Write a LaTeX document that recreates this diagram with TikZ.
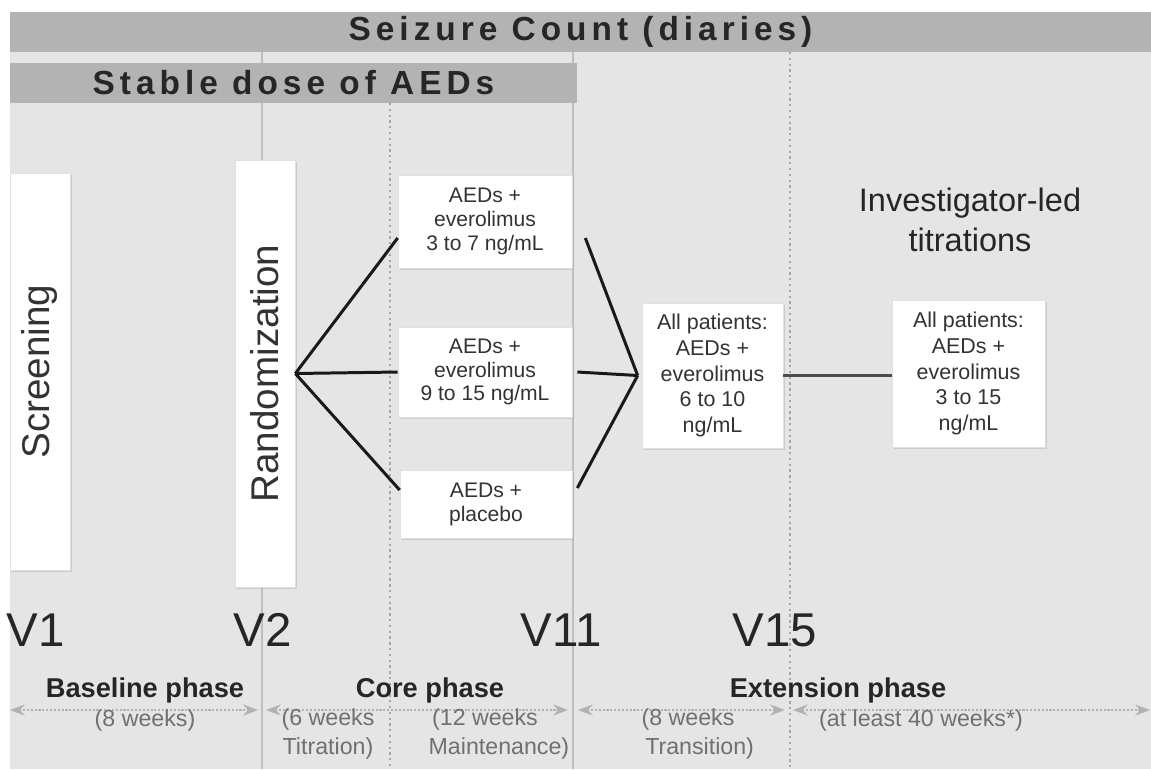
\documentclass[tikz,border=0pt]{standalone}
\usepackage{fontspec}
\setmainfont{Liberation Sans}
\newfontfamily\barfont[LetterSpace=15]{Liberation Sans}
\usetikzlibrary{arrows.meta, positioning, shadows}

\definecolor{panelgray}{HTML}{E5E5E5}
\definecolor{bargray}{HTML}{B3B3B3}
\definecolor{notegray}{HTML}{707070}

\begin{document}
\begin{tikzpicture}[x=0.02cm, y=-0.02cm, >=Stealth,
    bar/.style={fill=bargray, inner sep=0pt, text=black!85,
                font=\barfont\bfseries\fontsize{19}{21}\selectfont},
    whitebox/.style={fill=white, draw=black!12, inner sep=0pt,
                drop shadow={shadow xshift=1.2pt, shadow yshift=-1.2pt, opacity=0.25}},
    armbox/.style={whitebox, align=center, text=black!80,
                font=\fontsize{12}{13.6}\selectfont},
    allbox/.style={whitebox, align=center, text=black!80,
                font=\fontsize{12.2}{14.6}\selectfont},
    visit/.style={text=black!85, font=\fontsize{27}{30}\selectfont},
    phase/.style={text=black!85, font=\bfseries\fontsize{15.5}{17}\selectfont},
    weeks/.style={text=notegray, align=center, font=\fontsize{13.2}{16}\selectfont},
    divider/.style={draw=black!25, line width=0.8pt},
    dotline/.style={draw=black!35, line width=1.3pt, dotted},
    arm/.style={line width=1.7pt, black!90},
    span/.style={<->, draw=black!30, line width=1.2pt, densely dotted},
  ]
  \useasboundingbox (0,0) rectangle (1151,769);
  \fill[white] (0,0) rectangle (1151,769);
  \fill[panelgray] (10,12) rectangle (1151,769);

  % Visit dividers
  \draw[divider] (262,52) -- (262,769);
  \draw[divider] (573,52) -- (573,769);
  \draw[dotline] (390,103) -- (390,769);
  \draw[dotline] (790,52) -- (790,769);

  % Bars
  \node[bar, minimum width=22.82cm, minimum height=0.8cm] (seizure) at (580.5,32)
    {Seizure Count (diaries)};
  \node[bar, minimum width=11.34cm, minimum height=0.8cm] (stable) at (293.5,83)
    {Stable dose of AEDs};

  % Screening and randomization
  \node[whitebox, rotate=90, minimum width=7.94cm, minimum height=1.2cm,
        font=\fontsize{22}{24}\selectfont, text=black!80] (scr) at (40,371.5) {Screening};
  \node[whitebox, rotate=90, minimum width=8.54cm, minimum height=1.2cm,
        font=\fontsize{22}{24}\selectfont, text=black!80] (rand) at (265,373.5) {Randomization};

  % Core phase arms
  \node[armbox, minimum width=3.48cm, minimum height=1.86cm] (arm1) at (485,221.5)
    {AEDs +\\everolimus\\3 to 7 ng/mL};
  \node[armbox, minimum width=3.48cm, minimum height=1.8cm] (arm2) at (485,372)
    {AEDs +\\everolimus\\9 to 15 ng/mL};
  \node[armbox, minimum width=3.44cm, minimum height=1.36cm] (arm3) at (486,504)
    {AEDs +\\placebo};

  % Extension boxes
  \node[allbox, minimum width=2.82cm, minimum height=2.9cm] (trans) at (712.5,375.5)
    {All patients:\\AEDs +\\everolimus\\6 to 10\\ng/mL};
  \node[allbox, minimum width=3.06cm, minimum height=2.94cm] (ext) at (968.5,373.5)
    {All patients:\\AEDs +\\everolimus\\3 to 15\\ng/mL};
  \node[align=center, text=black!85, font=\fontsize{18.5}{22.7}\selectfont]
    (invest) at (970,220) {Investigator-led\\titrations};

  % Connectors
  \coordinate (split) at (rand.south);
  \coordinate (merge) at ([xshift=-0.08cm]trans.west);
  \draw[arm] (split) -- ([yshift=-0.33cm]arm1.west);
  \draw[arm] (split) -- (arm2.west);
  \draw[arm] (split) -- ([yshift=0.28cm]arm3.west);
  \draw[arm] ([xshift=0.26cm, yshift=-0.33cm]arm1.east) -- (merge);
  \draw[arm] ([xshift=0.1cm]arm2.east) -- (merge);
  \draw[arm] ([xshift=0.1cm, yshift=0.32cm]arm3.east) -- (merge);
  \draw[arm, black!70] (trans.east) -- (trans.east -| ext.west);

  % Visits
  \node[visit] (v1) at (36,630) {V1};
  \node[visit] (v2) at (263,630) {V2};
  \node[visit] (v11) at (561,630) {V11};
  \node[visit] (v15) at (775,630) {V15};

  % Phases
  \node[phase] (base) at (145,690) {Baseline phase};
  \node[phase] (core) at (430,690) {Core phase};
  \node[phase] (extp) at (838,690) {Extension phase};

  \coordinate (sL) at (10,710);
  \coordinate (sV2) at (262,710);
  \coordinate (sV11) at (573,710);
  \coordinate (sV15) at (790,710);
  \coordinate (sR) at (1150,710);
  \draw[span, shorten >=0.08cm] (sL) -- (sV2);
  \draw[span, shorten <=0.08cm, shorten >=0.1cm] (sV2) -- (sV11);
  \draw[span, shorten <=0.1cm, shorten >=0.1cm] (sV11) -- (sV15);
  \draw[span, shorten <=0.06cm] (sV15) -- (sR);

  \node[weeks] (w8) at (145,720) {(8 weeks)};
  \node[weeks] (w6) at (328,734) {(6 weeks\\Titration)};
  \node[weeks] (w12) at (485,734) {(12 weeks\\\hspace*{1.2em}Maintenance)};
  \node[weeks] (w8t) at (688,734) {(8 weeks\\\hspace*{1em}Transition)};
  \node[weeks] (w40) at (921,720) {(at least 40 weeks*)};
\end{tikzpicture}
\end{document}
